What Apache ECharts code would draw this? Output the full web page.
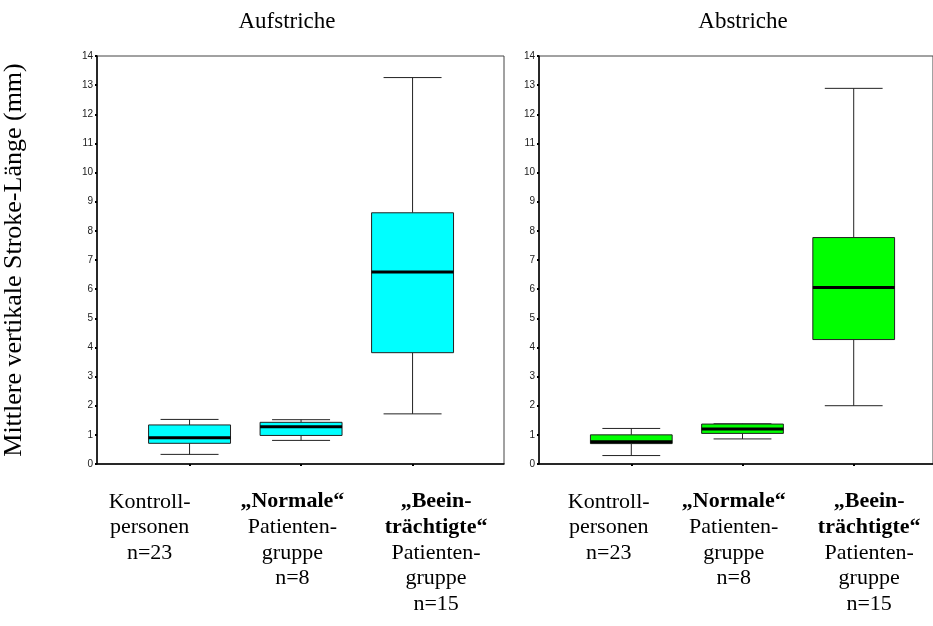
<!DOCTYPE html>
<html>
<head>
<meta charset="utf-8">
<script src="https://cdn.jsdelivr.net/npm/echarts@6/dist/echarts.min.js"></script>
<style>html,body{margin:0;padding:0;background:#fff}#c{width:933px;height:626px}</style>
</head>
<body>
<div id="c"></div>
<script>
// ---- data ----
const categoryPos = [1, 2, 3];
const categoryLabels = [
  'Kontroll-\npersonen\nn=23',
  '{b|„Normale“}\nPatienten-\ngruppe\nn=8',
  '{b|„Beein-}\n{b|trächtigte“}\nPatienten-\ngruppe\nn=15'
];
const panelTitles = ['Aufstriche', 'Abstriche'];
const yTicks = [0, 14, 1]; // min, max, interval

const aufMin = [0.33, 0.81, 1.72];
const aufQ1  = [0.71, 0.98, 3.82];
const aufMed = [0.90, 1.28, 6.59];
const aufQ3  = [1.34, 1.43, 8.62];
const aufMax = [1.53, 1.52, 13.26];

const abMin = [0.29, 0.86, 2.00];
const abQ1  = [0.70, 1.05, 4.27];
const abMed = [0.76, 1.20, 6.06];
const abQ3  = [1.00, 1.37, 7.77];
const abMax = [1.22, 1.38, 12.89];

// ---- build ----
function rows(mn, q1, md, q3, mx) {
  return categoryPos.map((p, i) => [p, mn[i], q1[i], md[i], q3[i], mx[i]]);
}
const BOX_W = 0.735, CAP_W = 0.52;
function makeRender(fill) {
  return function (params, api) {
    const x = api.value(0);
    const mn = api.coord([x, api.value(1)]);
    const q1 = api.coord([x, api.value(2)]);
    const md = api.coord([x, api.value(3)]);
    const q3 = api.coord([x, api.value(4)]);
    const mx = api.coord([x, api.value(5)]);
    const hw = api.size([BOX_W, 0])[0] / 2;
    const cw = api.size([CAP_W, 0])[0] / 2;
    const cx = mn[0];
    const ln = {stroke: '#222', lineWidth: 1};
    return {
      type: 'group',
      children: [
        {type: 'line', shape: {x1: cx, y1: mn[1], x2: cx, y2: q1[1]}, style: ln},
        {type: 'line', shape: {x1: cx, y1: q3[1], x2: cx, y2: mx[1]}, style: ln},
        {type: 'line', shape: {x1: cx - cw, y1: mn[1], x2: cx + cw, y2: mn[1]}, style: ln},
        {type: 'line', shape: {x1: cx - cw, y1: mx[1], x2: cx + cw, y2: mx[1]}, style: ln},
        {type: 'rect', shape: {x: cx - hw, y: q3[1], width: 2 * hw, height: q1[1] - q3[1]},
         style: {fill: fill, stroke: '#222', lineWidth: 1}},
        {type: 'line', shape: {x1: cx - hw, y1: md[1], x2: cx + hw, y2: md[1]},
         style: {stroke: '#000', lineWidth: 3}}
      ]
    };
  };
}

const serif = 'Liberation Serif, Times New Roman, serif';
const xRanges = [[0.17, 3.82], [0.17, 3.713]];
const labelOffsets = [[0.642, 1.922, 3.211], [0.797, 1.921, 3.139]];
function xAxisFor(gi) {
  const offs = labelOffsets[gi];
  return {
    type: 'value', gridIndex: gi, min: xRanges[gi][0], max: xRanges[gi][1],
    axisLine: {show: true, lineStyle: {color: '#000', width: 1.5}},
    axisTick: {show: true, customValues: categoryPos, length: 2, lineStyle: {width: 2, color: '#000'}},
    splitLine: {show: false},
    axisLabel: {
      show: true,
      customValues: offs,
      margin: 25,
      formatter: function (v) {
        let best = 0;
        for (let i = 1; i < offs.length; i++) {
          if (Math.abs(offs[i] - v) < Math.abs(offs[best] - v)) best = i;
        }
        return categoryLabels[best];
      },
      fontFamily: serif, fontSize: 22, lineHeight: 25.5, color: '#000', align: 'center',
      rich: {b: {fontFamily: serif, fontSize: 22, lineHeight: 25.5, fontWeight: 'bold', color: '#000'}}
    }
  };
}
function yAxisFor(gi) {
  return {
    type: 'value', gridIndex: gi, min: yTicks[0], max: yTicks[1], interval: yTicks[2],
    axisLine: {show: true, lineStyle: {color: '#000', width: 1.5}},
    axisTick: {show: true, length: 2, lineStyle: {width: 2, color: '#000'}},
    splitLine: {show: false},
    axisLabel: {fontFamily: 'Liberation Sans Narrow, Liberation Sans, Arial, sans-serif', fontSize: 10, color: '#222', margin: 4},
    name: gi === 0 ? 'Mittlere vertikale Stroke-Länge (mm)' : '',
    nameLocation: 'middle', nameRotate: 90, nameGap: 70,
    nameTextStyle: {fontFamily: serif, fontSize: 26, color: '#000'}
  };
}

const chart = echarts.init(document.getElementById('c'));
chart.setOption({
  backgroundColor: '#fff',
  animation: false,
  title: [
    {text: panelTitles[0], left: 282, top: 5, textAlign: 'center',
     textStyle: {fontFamily: serif, fontWeight: 'normal', fontSize: 23, color: '#000'}},
    {text: panelTitles[1], left: 738, top: 5, textAlign: 'center',
     textStyle: {fontFamily: serif, fontWeight: 'normal', fontSize: 23, color: '#000'}}
  ],
  grid: [
    {left: 97, top: 56, width: 407, height: 408, show: true, borderColor: '#444', borderWidth: 1, backgroundColor: '#fff'},
    {left: 539, top: 56, right: 0, height: 408, show: true, borderColor: '#444', borderWidth: 1, backgroundColor: '#fff'}
  ],
  xAxis: [xAxisFor(0), xAxisFor(1)],
  yAxis: [yAxisFor(0), yAxisFor(1)],
  series: [
    {type: 'custom', xAxisIndex: 0, yAxisIndex: 0, renderItem: makeRender('#00FFFF'),
     encode: {x: 0, y: [1, 2, 3, 4, 5]}, data: rows(aufMin, aufQ1, aufMed, aufQ3, aufMax)},
    {type: 'custom', xAxisIndex: 1, yAxisIndex: 1, renderItem: makeRender('#00FF00'),
     encode: {x: 0, y: [1, 2, 3, 4, 5]}, data: rows(abMin, abQ1, abMed, abQ3, abMax)}
  ]
});
</script>
</body>
</html>
